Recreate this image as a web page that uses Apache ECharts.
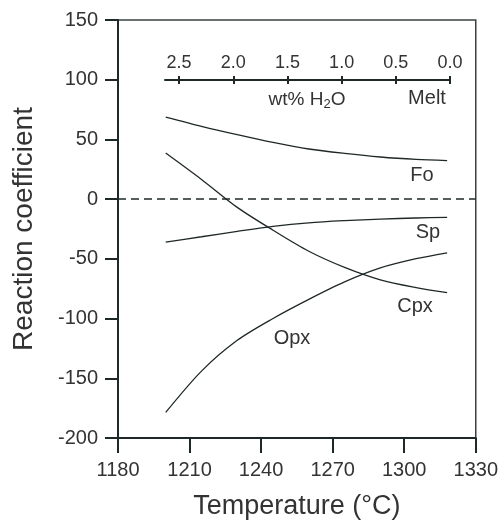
<!DOCTYPE html>
<html>
<head>
<meta charset="utf-8">
<script src="https://cdn.jsdelivr.net/npm/echarts@6/dist/echarts.min.js"></script>
<style>
  html, body { margin: 0; padding: 0; background: #fff; }
  #chart { width: 501px; height: 525px; }
</style>
</head>
<body>
<div id="chart"></div>
<script>
// temperatures (°C) where the curves were read
let temps = [1200, 1215, 1230, 1245, 1260, 1275, 1290, 1305, 1318]
let fo = [68.7, 61, 54, 47.5, 42, 38.3, 35.3, 33.3, 32.3]
let sp = [-36, -31.5, -27, -22.8, -19.8, -18, -16.7, -15.8, -15.2]
let cpx = [38.6, 16.5, -6.9, -26, -43.6, -57.1, -67.5, -74, -78.3]
let opx = [-178.6, -144, -118.2, -99.9, -83.9, -69.3, -57.6, -49.9, -44.9]
let water_ticks = [2.5, 2.0, 1.5, 1.0, 0.5, 0.0]

const font = 'Liberation Sans, Arial, sans-serif'
const ink = '#1f2828'
const txt = '#333'

function pairs(vals) {
    let out = []
    for (let i = 0; i < temps.length; i++) {
        out.push([temps[i], vals[i]])
    }
    return out
}

function curve(name, vals) {
    return {
        name: name,
        type: 'line',
        xAxisIndex: 0,
        yAxisIndex: 0,
        data: pairs(vals),
        smooth: 0.3,
        showSymbol: false,
        silent: true,
        lineStyle: { color: ink, width: 1.3 }
    }
}

let fo_series = curve('Fo', fo)
fo_series.markLine = {
    silent: true,
    symbol: 'none',
    label: { show: false },
    lineStyle: { color: ink, width: 1.6, type: [8, 5] },
    data: [{ yAxis: 0 }]
}

function label(text, x, y, size) {
    return {
        type: 'text', x: x, y: y,
        style: { text: text, fontSize: size, fill: txt, fontFamily: font, align: 'center', verticalAlign: 'middle' }
    }
}

let option = {
    animation: false,
    backgroundColor: '#fff',
    textStyle: { fontFamily: font },
    grid: [
        { left: 118, right: 23, top: 20, bottom: 86, show: true, borderColor: '#3a4040', borderWidth: 1.5 },
        { left: 165, width: 285, top: 80, height: 0 }
    ],
    xAxis: [
        {
            type: 'value', gridIndex: 0, min: 1180, max: 1330, interval: 30,
            name: 'Temperature (°C)', nameLocation: 'middle', nameGap: 55,
            nameTextStyle: { fontSize: 27, color: txt, fontFamily: font },
            axisLine: { onZero: false, lineStyle: { color: ink, width: 2 } },
            axisTick: { length: 15, lineStyle: { color: ink, width: 2 } },
            axisLabel: { fontSize: 20, color: txt, margin: 22, fontFamily: font, formatter: function (v) { return String(v) } },
            splitLine: { show: false }
        },
        {
            type: 'value', gridIndex: 1, position: 'top', min: 0, max: 2.63, inverse: true,
            axisLine: { onZero: false, lineStyle: { color: ink, width: 2 } },
            axisTick: { length: 4, customValues: water_ticks, lineStyle: { color: ink, width: 2 } },
            axisLabel: {
                fontSize: 18, color: txt, margin: 8, fontFamily: font,
                customValues: water_ticks,
                formatter: function (v) { return v.toFixed(1) }
            },
            splitLine: { show: false }
        },
        {
            type: 'value', gridIndex: 1, position: 'bottom', min: 0, max: 2.63, inverse: true,
            axisLine: { show: false, onZero: false },
            axisTick: { length: 4, customValues: water_ticks, lineStyle: { color: ink, width: 2 } },
            axisLabel: { show: false },
            splitLine: { show: false }
        }
    ],
    yAxis: [
        {
            type: 'value', gridIndex: 0, min: -200, max: 150, interval: 50,
            name: 'Reaction coefficient', nameLocation: 'middle', nameGap: 80,
            nameTextStyle: { fontSize: 28, color: txt, fontFamily: font },
            axisLine: { onZero: false, lineStyle: { color: ink, width: 2 } },
            axisTick: { length: 13, lineStyle: { color: ink, width: 2 } },
            axisLabel: { fontSize: 20, color: txt, margin: 20, fontFamily: font },
            splitLine: { show: false }
        },
        {
            type: 'value', gridIndex: 1, show: false, min: 0, max: 1
        }
    ],
    graphic: [
        label('Fo', 422, 175, 20),
        label('Sp', 428, 232, 20),
        label('Cpx', 415, 306, 20),
        label('Opx', 292, 338, 20),
        label('Melt', 427, 98, 20),
        {
            type: 'text', x: 307, y: 100,
            style: {
                text: 'wt% H{sub|2}O', fontSize: 19, fill: txt, fontFamily: font, align: 'center', verticalAlign: 'middle',
                rich: { sub: { fontSize: 13, fill: txt, fontFamily: font, padding: [9, 0, 0, 0] } }
            }
        }
    ],
    series: [
        fo_series,
        curve('Sp', sp),
        curve('Cpx', cpx),
        curve('Opx', opx)
    ]
}

const myChart = echarts.init(document.getElementById('chart'))
myChart.setOption(option, true)
</script>
</body>
</html>
